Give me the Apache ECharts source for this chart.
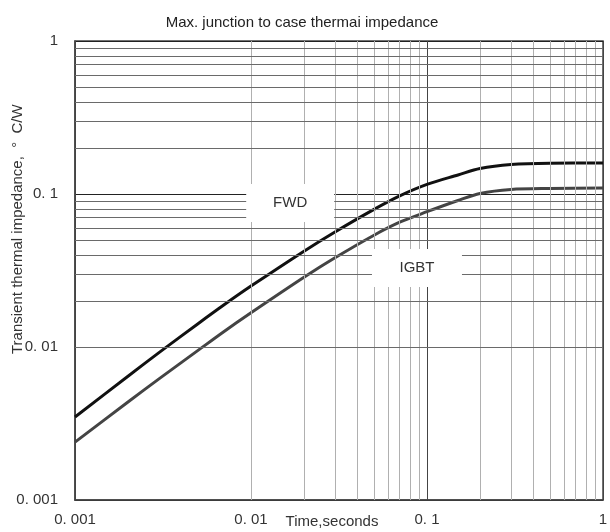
<!DOCTYPE html>
<html>
<head>
<meta charset="utf-8">
<script src="https://cdn.jsdelivr.net/npm/echarts@6/dist/echarts.min.js"></script>
<style>
  html, body { margin: 0; padding: 0; background: #fff; }
  #chart { width: 610px; height: 532px; }
</style>
</head>
<body>
<div id="chart"></div>
<script>
// Time points, seconds
const times = [0.001, 0.002, 0.003, 0.005, 0.007, 0.01, 0.02, 0.03, 0.05, 0.07, 0.1, 0.15, 0.2, 0.3, 0.5, 1];
// Transient thermal impedance, °C/W
const fwdValues  = [0.00349, 0.00644, 0.00919, 0.0142, 0.0188, 0.0250, 0.0423, 0.0565, 0.0794, 0.0973, 0.1156, 0.1331, 0.1468, 0.1559, 0.1590, 0.1594];
const igbtValues = [0.00239, 0.00437, 0.00619, 0.00950, 0.01259, 0.01673, 0.02855, 0.03828, 0.05379, 0.0654, 0.0766, 0.0907, 0.1008, 0.1070, 0.1086, 0.1094];

// Decade ticks and the 2..9 minor grid inside each decade
const decades = [0.001, 0.01, 0.1, 1];
const minorSteps = [2, 3, 4, 5, 6, 7, 8, 9];
const minorGrid = [];
decades.slice(0, -1).forEach(d => minorSteps.forEach(m => minorGrid.push(+(d * m).toPrecision(3))));

// Where the curve captions sit, in data coordinates
const captionFWD = [0.0167, 0.0873];
const captionIGBT = [0.0877, 0.0328];

const fmt = v => {
  if (v >= 1) return String(Math.round(v));
  return String(+v.toPrecision(3)).replace('.', '. ');
};

const chart = echarts.init(document.getElementById('chart'), null, { renderer: 'canvas' });

const textColor = '#333';
const font = 'Liberation Sans, Arial, sans-serif';

chart.setOption({
  animation: false,
  backgroundColor: '#fff',
  textStyle: { fontFamily: font },
  title: {
    text: 'Max. junction to case thermai impedance',
    left: 297, top: 10, textAlign: 'center',
    textStyle: { fontSize: 15, fontWeight: 'normal', color: '#222', fontFamily: font }
  },
  grid: {
    left: 75, right: 7, top: 41, bottom: 32,
    containLabel: false, outerBoundsMode: 'none',
    show: true, borderColor: '#444', borderWidth: 1.5
  },
  xAxis: {
    type: 'log', logBase: 10, min: 0.001, max: 1,
    axisLine: { show: true, lineStyle: { color: '#444', width: 1.5 } },
    axisTick: { show: false },
    axisLabel: { formatter: fmt, fontSize: 15, color: textColor, margin: 12, fontFamily: font },
    splitLine: { show: true, lineStyle: { color: '#444', width: 1 } }
  },
  yAxis: {
    type: 'log', logBase: 10, min: 0.001, max: 1,
    axisLine: { show: true, lineStyle: { color: '#444', width: 1.5 } },
    axisTick: { show: false },
    axisLabel: { formatter: fmt, fontSize: 15, color: textColor, margin: 17, fontFamily: font },
    splitLine: { show: true, lineStyle: { color: '#222', width: 1 } }
  },
  graphic: [
    {
      type: 'text', rotation: Math.PI / 2,
      x: 10, y: 354,
      style: { text: 'Transient thermal impedance,  \u00B0  C/W', fill: textColor, fontSize: 15, fontFamily: font }
    },
    {
      type: 'text', x: 332, y: 522,
      style: { text: 'Time,seconds', fill: textColor, fontSize: 15, fontFamily: font, align: 'center', verticalAlign: 'middle' }
    }
  ],
  series: [
    {
      name: 'grid', type: 'line', data: [], z: 1, silent: true,
      markLine: {
        silent: true, symbol: ['none', 'none'], animation: false,
        label: { show: false },
        data: [
          ...minorGrid.map(v => ({ xAxis: v, lineStyle: { color: '#b0b0b0', width: 1, type: 'solid' } })),
          ...minorGrid.map(v => ({ yAxis: v, lineStyle: { color: '#6a6a6a', width: 1, type: 'solid' } }))
        ]
      }
    },
    {
      name: 'IGBT', type: 'line', smooth: 0.3, showSymbol: false, z: 3,
      data: times.map((t, i) => [t, igbtValues[i]]),
      lineStyle: { color: '#444', width: 3 },
      markPoint: {
        silent: true, symbol: 'rect', symbolSize: [90, 38],
        itemStyle: { color: '#fff' },
        label: { show: true, formatter: 'IGBT', color: '#333', fontSize: 15, fontFamily: font },
        data: [{ coord: captionIGBT }]
      }
    },
    {
      name: 'FWD', type: 'line', smooth: 0.3, showSymbol: false, z: 4,
      data: times.map((t, i) => [t, fwdValues[i]]),
      lineStyle: { color: '#111', width: 3 },
      markPoint: {
        silent: true, symbol: 'rect', symbolSize: [88, 38],
        itemStyle: { color: '#fff' },
        label: { show: true, formatter: 'FWD', color: '#333', fontSize: 15, fontFamily: font },
        data: [{ coord: captionFWD }]
      }
    }
  ]
});
</script>
</body>
</html>
